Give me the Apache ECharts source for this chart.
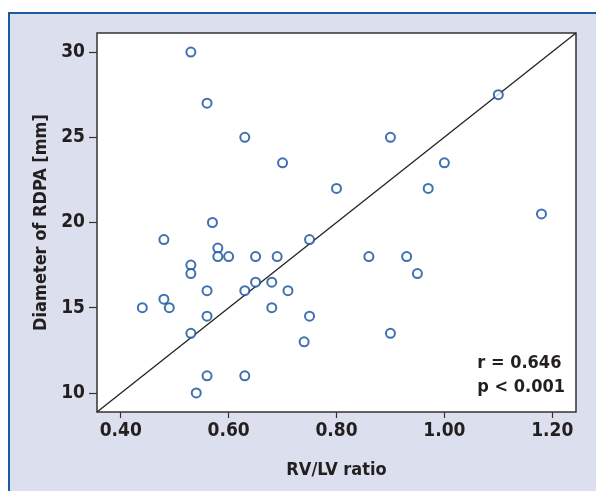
<!DOCTYPE html>
<html>
<head>
<meta charset="utf-8">
<script src="https://cdn.jsdelivr.net/npm/echarts@6/dist/echarts.min.js"></script>
<style>
  html, body { margin: 0; padding: 0; background: #fff; }
  #chart { width: 596px; height: 491px; }
</style>
</head>
<body>
<div id="chart"></div>
<script>
// RV/LV ratio vs diameter of RDPA
const rvLv = [
  0.53, 0.56, 0.63, 0.70, 1.10, 0.90, 1.00, 0.80, 0.97, 1.18,
  0.75, 0.57, 0.48, 0.58, 0.58, 0.60, 0.65, 0.69, 0.86, 0.93,
  0.95, 0.53, 0.53, 0.56, 0.63, 0.65, 0.68, 0.71, 0.68, 0.75,
  0.44, 0.48, 0.49, 0.56, 0.53, 0.74, 0.90, 0.56, 0.63, 0.54,
]
const rdpa = [
  30, 27, 25, 23.5, 27.5, 25, 23.5, 22, 22, 20.5,
  19, 20, 19, 18.5, 18, 18, 18, 18, 18, 18,
  17, 17.5, 17, 16, 16, 16.5, 16.5, 16, 15, 14.5,
  15, 15.5, 15, 14.5, 13.5, 13, 13.5, 11, 11, 10,
]
const xRange = [0.356, 1.244]
const yRange = [8.88, 31.12]
const xTicks = [0.4, 0.6, 0.8, 1.0, 1.2]
const yTicks = [10, 15, 20, 25, 30]
// reference line runs corner to corner of the plot
const diagonal = [[xRange[0], yRange[0]], [xRange[1], yRange[1]]]
const stats = ['r = 0.646', 'p < 0.001']

const font = '"DejaVu Sans Condensed", "Liberation Sans", sans-serif'
const ink = '#231f20'

const chartDom = document.getElementById('chart')
const myChart = echarts.init(chartDom)

const option = {
  animation: false,
  graphic: [
    {
      type: 'rect',
      z: -10,
      shape: { x: 9, y: 13, width: 640, height: 520 },
      style: { fill: '#dce0ee', stroke: '#1d58a3', lineWidth: 2 },
    },
    {
      type: 'text',
      right: 596 - 565,
      top: 351,
      z: 10,
      style: {
        text: stats.join('\n'),
        font: 'bold 18px ' + font,
        fill: ink,
        align: 'right',
        lineHeight: 24,
      },
    },
  ],
  grid: {
    show: true,
    left: 97,
    right: 20,
    top: 33,
    bottom: 79,
    backgroundColor: '#fff',
    borderColor: '#333',
    borderWidth: 1.5,
  },
  xAxis: {
    type: 'value',
    min: xRange[0],
    max: xRange[1],
    name: 'RV/LV ratio',
    nameLocation: 'middle',
    nameGap: 49,
    nameTextStyle: { fontFamily: font, fontSize: 18, fontWeight: 'bold', color: ink },
    axisLine: { show: false },
    splitLine: { show: false },
    axisTick: { show: true, length: 6, customValues: xTicks, lineStyle: { color: '#333', width: 1.2 } },
    axisLabel: {
      customValues: xTicks,
      margin: 10,
      fontFamily: font,
      fontSize: 19,
      fontWeight: 'bold',
      color: ink,
      formatter: (v) => v.toFixed(2),
    },
  },
  yAxis: {
    type: 'value',
    min: yRange[0],
    max: yRange[1],
    name: 'Diameter of RDPA [mm]',
    nameLocation: 'middle',
    nameGap: 45,
    nameTextStyle: { fontFamily: font, fontSize: 18, fontWeight: 'bold', color: ink },
    axisLine: { show: false },
    splitLine: { show: false },
    axisTick: { show: true, length: 8, customValues: yTicks, lineStyle: { color: '#333', width: 1.2 } },
    axisLabel: {
      customValues: yTicks,
      margin: 12,
      fontFamily: font,
      fontSize: 19,
      fontWeight: 'bold',
      color: ink,
    },
  },
  series: [
    {
      type: 'line',
      data: diagonal,
      symbol: 'none',
      silent: true,
      lineStyle: { color: '#222', width: 1.3 },
      z: 2,
    },
    {
      type: 'scatter',
      data: rvLv.map((x, i) => [x, rdpa[i]]),
      symbol: 'emptyCircle',
      symbolSize: 9,
      itemStyle: { color: '#0f4d9e', borderWidth: 1.8 },
      z: 3,
    },
  ],
}
option && myChart.setOption(option)
</script>
</body>
</html>
